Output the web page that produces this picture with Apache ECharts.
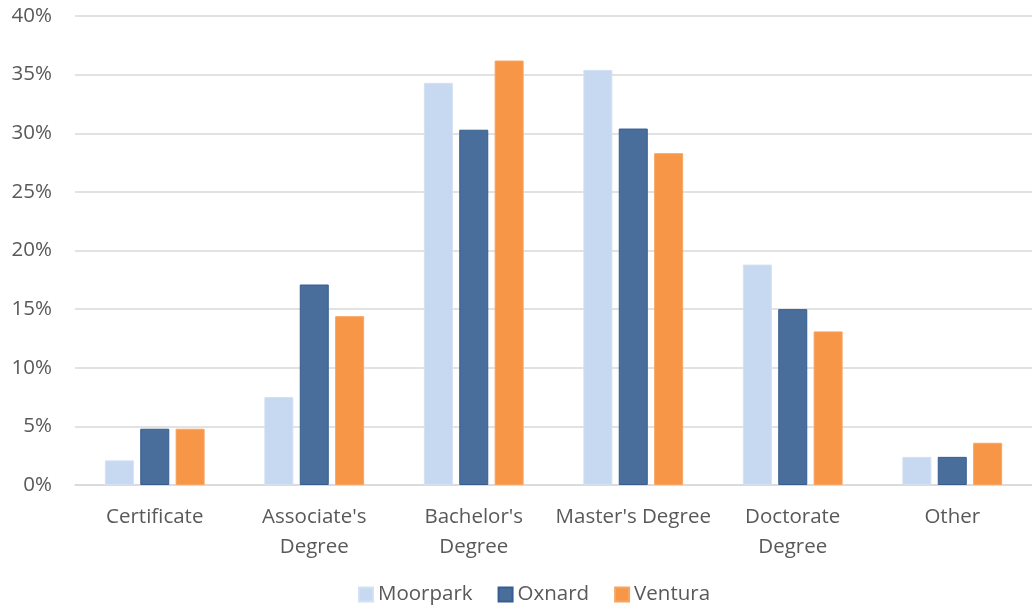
<!DOCTYPE html>
<html>
<head>
<meta charset="utf-8">
<script src="https://cdn.jsdelivr.net/npm/echarts@6/dist/echarts.min.js"></script>
<style>
  html, body { margin: 0; padding: 0; background: #ffffff; }
  #chart { width: 1032px; height: 610px; }
</style>
</head>
<body>
<div id="chart"></div>
<script>
// Highest degree held, share by campus
const categories = ["Certificate", "Associate's\nDegree", "Bachelor's\nDegree", "Master's Degree", "Doctorate\nDegree", "Other"];
const moorpark = [2.1, 7.5, 34.3, 35.4, 18.8, 2.4];
const oxnard   = [4.8, 17.1, 30.3, 30.4, 15.0, 2.4];
const ventura  = [4.8, 14.4, 36.2, 28.3, 13.1, 3.6];
const yTicks = [0, 5, 10, 15, 20, 25, 30, 35, 40];

const FONT = "'Open Sans', Lato, sans-serif";
const TEXT = '#595959';
const SIZE = 20.5;

const chart = echarts.init(document.getElementById('chart'), null, { renderer: 'canvas' });

function bar(name, data, fill, border) {
  return {
    name: name,
    type: 'bar',
    data: data,
    barWidth: 29,
    barGap: '22%',
    itemStyle: { color: fill, borderColor: border, borderWidth: 1 },
    emphasis: { disabled: true }
  };
}

chart.setOption({
  animation: false,
  textStyle: { fontFamily: FONT },
  grid: { left: 75, top: 16, width: 964, height: 469, containLabel: false },
  legend: {
    top: 579,
    left: 353,
    itemWidth: 14,
    itemHeight: 14,
    itemGap: 25,
    icon: 'rect',
    textStyle: { fontFamily: FONT, fontSize: SIZE, color: TEXT },
    data: ['Moorpark', 'Oxnard', 'Ventura']
  },
  xAxis: {
    type: 'category',
    data: categories,
    axisLine: { show: true, lineStyle: { color: '#d9d9d9', width: 1.5 } },
    axisTick: { show: false },
    axisLabel: { fontFamily: FONT, fontSize: SIZE, color: TEXT, lineHeight: 30, margin: 17, interval: 0 }
  },
  yAxis: {
    type: 'value',
    min: yTicks[0],
    max: yTicks[yTicks.length - 1],
    interval: 5,
    axisLine: { show: false },
    axisTick: { show: false },
    splitLine: { lineStyle: { color: '#d9d9d9', width: 1.5 } },
    axisLabel: { fontFamily: FONT, fontSize: SIZE, color: TEXT, margin: 23, formatter: v => v + '%' }
  },
  series: [
    bar('Moorpark', moorpark, '#c6d9f0', '#d3e1f3'),
    bar('Oxnard', oxnard, '#4a6e9c', '#365d8f'),
    bar('Ventura', ventura, '#f79646', '#f8a563')
  ]
});
</script>
</body>
</html>
